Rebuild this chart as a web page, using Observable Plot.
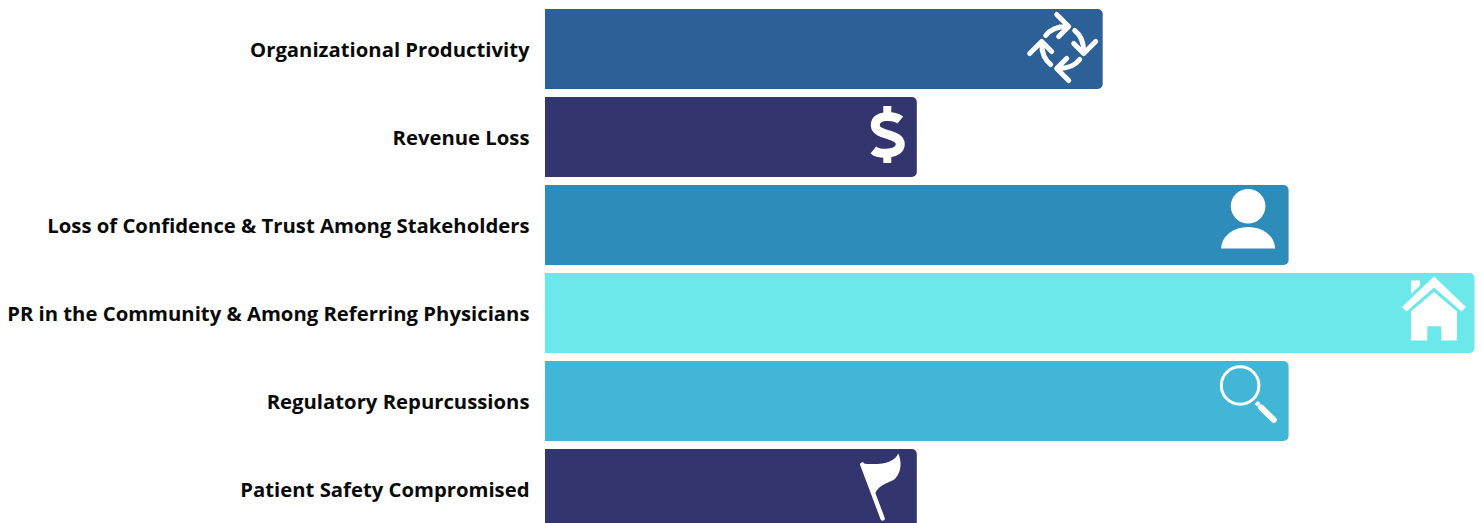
<!DOCTYPE html>
<html>
<head>
<meta charset="utf-8">
<script src="https://cdn.jsdelivr.net/npm/d3@7"></script>
<script src="https://cdn.jsdelivr.net/npm/@observablehq/plot@0.6"></script>
<style>
html,body{margin:0;padding:0;background:#fff;overflow:hidden}
svg{display:block}
</style>
</head>
<body>
<div id="chart"></div>
<script>
const categories = [
  "Organizational Productivity",
  "Revenue Loss",
  "Loss of Confidence & Trust Among Stakeholders",
  "PR in the Community & Among Referring Physicians",
  "Regulatory Repurcussions",
  "Patient Safety Compromised"
];
const values = [30, 20, 40, 50, 40, 20];
const colors = ["#2e6098", "#32356e", "#2e8cba", "#6ce7ea", "#42b6d6", "#32356e"];

const arrow = '<path d="M-17,-12 Q-10,-21 4,-21 M-6,-33 L6,-21 L-4,-11" fill="none" stroke="#fff" stroke-width="5" stroke-linecap="round" stroke-linejoin="round"/>';
const iconBodies = [
  [0, 90, 180, 270].map(a => `<g transform="rotate(${a})">${arrow}</g>`).join(""),
  '<path d="M13,-15 C7,-20 -13,-21 -12,-9 C-11,1 13,-2 13,9 C13,20 -8,20 -14,15" fill="none" stroke="#fff" stroke-width="9"/><path d="M-4,-29 h8 v10 h-8z M-4,18 h8 v10 h-8z" fill="#fff"/>',
  '<circle cx="0" cy="-12.3" r="17.3" fill="#fff"/><path d="M-27,30 A27,21.6 0 0 1 27,30 Z" fill="#fff"/>',
  '<path d="M0,-33 L32,-2.5 L27.5,2 L0,-22 L-27.5,2 L-32,-2.5 Z M0,-17.5 L23,2 V31 H7.3 V16.7 H-6.7 V31 H-23 V2 Z M-23,-29 H-14 V-24 L-23,-15.5 Z" fill="#fff"/>',
  '<circle cx="-8" cy="-9" r="18.8" fill="none" stroke="#fff" stroke-width="3"/><path d="M13,13 L25.7,25.3" stroke="#fff" stroke-width="6" stroke-linecap="round"/><path d="M8,8 L11,10.5" stroke="#fff" stroke-width="4.5"/>',
  '<path d="M-18,-25 C2,-23 14,-26 18,-35 C21,-28 22,-18 15,-10 C9,-5 -2,-5 -6,7 Z" fill="#fff"/><path d="M-18,-24 L2.3,30" stroke="#fff" stroke-width="4.4" stroke-linecap="round"/>'
];
const iconOffsetsX = [-40.5, -30, -41, -41, -41, -37];
const iconOffsetsY = [-2, -2.5, -7, -4, -7, -1];
const iconSrc = body => "data:image/svg+xml;utf8," + encodeURIComponent(
  `<svg xmlns="http://www.w3.org/2000/svg" viewBox="-40 -40 80 80" width="80" height="80">${body}</svg>`);

const rows = categories.map((name, i) => ({name, value: values[i], color: colors[i]}));

const plot = Plot.plot({
  width: 1483,
  height: 523,
  marginLeft: 0, marginRight: 0, marginTop: 0, marginBottom: 0,
  style: {background: "#fff", overflow: "hidden"},
  x: {domain: [0, 50], range: [545, 1474.5], axis: null},
  y: {domain: categories, range: [1, 537], padding: 8 / 88, round: false, label: null, axis: null},
  marks: [
    Plot.barX(rows, {x1: 0, x2: "value", y: "name", fill: "color", rx2: 5}),
    Plot.axisY({
      x: 0, tickSize: 0, tickPadding: 16, label: null,
      textAnchor: "end", dy: 0.5,
      fontSize: 20.3, fontWeight: 700, fontFamily: "Open Sans", fill: "#0a0a0a"
    }),
    ...rows.map((r, i) => Plot.image([r], {
      x: "value", y: "name", src: () => iconSrc(iconBodies[i]),
      width: 80, height: 80, dx: iconOffsetsX[i], dy: iconOffsetsY[i]
    }))
  ]
});
document.getElementById("chart").appendChild(plot);
</script>
</body>
</html>
